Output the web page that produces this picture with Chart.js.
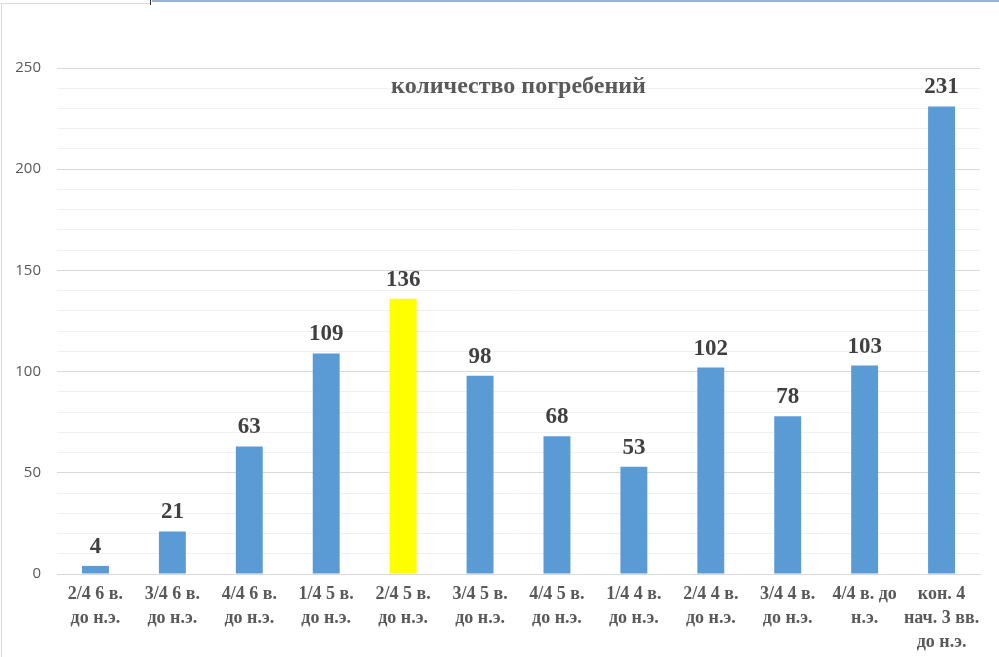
<!DOCTYPE html>
<html>
<head>
<meta charset="utf-8">
<script src="https://cdn.jsdelivr.net/npm/chart.js@4.4.1/dist/chart.umd.min.js"></script>
<style>
    html, body { margin: 0; padding: 0; background: #fff; }
    #wrap { position: relative; width: 999px; height: 657px; overflow: hidden; }
    #burials { position: absolute; left: 0; top: 0; }
    .frame-left { position: absolute; left: 1px; top: 3px; width: 1px; height: 654px; background: #d9d9d9; }
    .frame-top { position: absolute; left: 0; top: 3px; width: 150px; height: 1px; background: #d9d9d9; }
    .frame-blue { position: absolute; left: 152px; top: 0; width: 847px; height: 2px; background: #9ab5d4; }
    .frame-mark { position: absolute; left: 150px; top: 0; width: 1px; height: 5px; background: #333; }
</style>
</head>
<body>
<div id="wrap">
    <canvas id="burials" width="999" height="657"></canvas>
    <div class="frame-left"></div>
    <div class="frame-top"></div>
    <div class="frame-blue"></div>
    <div class="frame-mark"></div>
</div>
<script>
const periods = [
    ['2/4 6 в.', 'до н.э.'],
    ['3/4 6 в.', 'до н.э.'],
    ['4/4 6 в.', 'до н.э.'],
    ['1/4 5 в.', 'до н.э.'],
    ['2/4 5 в.', 'до н.э.'],
    ['3/4 5 в.', 'до н.э.'],
    ['4/4 5 в.', 'до н.э.'],
    ['1/4 4 в.', 'до н.э.'],
    ['2/4 4 в.', 'до н.э.'],
    ['3/4 4 в.', 'до н.э.'],
    ['4/4 в. до', 'н.э.'],
    ['кон. 4', 'нач. 3 вв.', 'до н.э.']
];
const burials = [4, 21, 63, 109, 136, 98, 68, 53, 102, 78, 103, 231];
const highlighted = 4;
const chartTitle = 'количество погребений';

const barColors = burials.map((v, i) => i === highlighted ? '#ffff00' : '#5b9bd5');

// values above the bars + title inside the plot
const overlayText = {
    id: 'overlayText',
    afterDatasetsDraw(chart) {
        const c = chart.ctx;
        const meta = chart.getDatasetMeta(0);
        c.save();
        c.font = 'bold 23px "Liberation Serif", "Times New Roman", serif';
        c.fillStyle = '#404040';
        c.textAlign = 'center';
        c.textBaseline = 'alphabetic';
        meta.data.forEach((bar, i) => {
            c.fillText(String(burials[i]), bar.x, bar.y - 13);
        });
        const area = chart.chartArea;
        c.font = 'bold 24px "Liberation Serif", "Times New Roman", serif';
        c.fillStyle = '#595959';
        c.textBaseline = 'middle';
        c.fillText(chartTitle, (area.left + area.right) / 2, area.top + 19);
        c.restore();
    }
};

const ctx = document.getElementById('burials').getContext('2d');
const chart = new Chart(ctx, {
    type: 'bar',
    data: {
        labels: periods,
        datasets: [{
            data: burials,
            backgroundColor: barColors,
            borderWidth: 0,
            barPercentage: 0.35,
            categoryPercentage: 1
        }]
    },
    plugins: [overlayText],
    options: {
        responsive: false,
        animation: false,
        layout: { padding: { left: 0, right: 19, top: 68, bottom: 0 } },
        plugins: {
            legend: { display: false },
            tooltip: { enabled: false }
        },
        scales: {
            x: {
                grid: { display: false, drawTicks: false },
                border: { color: '#d9d9d9', width: 1 },
                ticks: {
                    color: '#595959',
                    padding: 8,
                    maxRotation: 0,
                    autoSkip: false,
                    font: { family: '"Liberation Serif", "Times New Roman", serif', size: 18, weight: 'bold', lineHeight: 1.33 }
                },
                afterFit(scale) { scale.height = 83; }
            },
            y: {
                min: 0,
                max: 250,
                border: { display: false },
                grid: {
                    drawTicks: false,
                    color: (c) => c.tick && c.tick.value % 50 === 0 ? '#d9d9d9' : '#f0f0f0'
                },
                ticks: {
                    stepSize: 10,
                    autoSkip: false,
                    padding: 16,
                    color: '#595959',
                    font: { family: '"Open Sans", "DejaVu Sans", sans-serif', size: 15 },
                    callback: (v) => v % 50 === 0 ? v : ''
                },
                afterFit(scale) { scale.width = 57; }
            }
        }
    }
});
</script>
</body>
</html>
